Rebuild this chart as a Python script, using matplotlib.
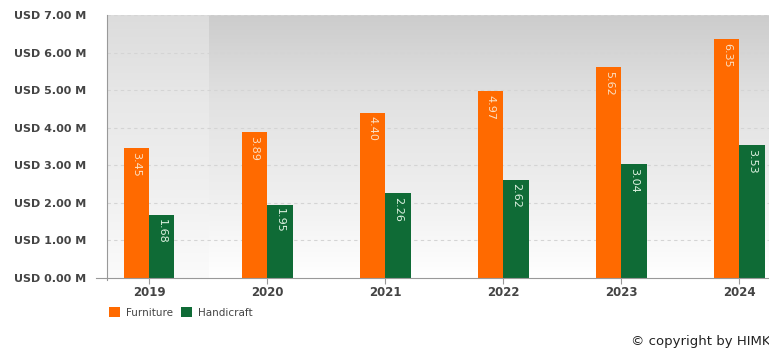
import numpy as np
import matplotlib.pyplot as plt
from matplotlib.colors import LinearSegmentedColormap

years = ["2019", "2020", "2021", "2022", "2023", "2024"]
furniture = [3.45, 3.89, 4.40, 4.97, 5.62, 6.35]
handicraft = [1.68, 1.95, 2.26, 2.62, 3.04, 3.53]
ytick_vals = [0, 1, 2, 3, 4, 5, 6, 7]
ytick_labels = ["USD %.2f M" % v for v in ytick_vals]

orange = "#FF6A00"
green = "#0F6B36"

fig = plt.figure(figsize=(7.69, 3.49), dpi=100)
ax = fig.add_axes([107/769, 1-278/349, 1-107/769, (278-15)/349])

x = np.arange(len(years))
w = 0.215
xmin, xmax = -0.356, 5.25
ax.set_xlim(xmin, xmax)
ax.set_ylim(0, 7)

# background gradient
grad = np.linspace(0, 1, 256).reshape(-1, 1)
cmap_r = LinearSegmentedColormap.from_list("r", ["#ffffff", "#eeeeee", "#e2e2e2", "#cccccc"])
cmap_l = LinearSegmentedColormap.from_list("l", ["#fbfbfb", "#f0f0f0", "#e8e8e8", "#dcdcdc"])
ax.imshow(grad, extent=[0.5, xmax, 0, 7], origin="lower", aspect="auto", cmap=cmap_r, zorder=0)
ax.imshow(grad, extent=[xmin, 0.5, 0, 7], origin="lower", aspect="auto", cmap=cmap_l, zorder=0)

for v in ytick_vals[1:]:
    ax.axhline(v, color="#d4d4d4", lw=0.8, ls=(0, (3, 3)), zorder=1)

b1 = ax.bar(x - w/2, furniture, w, color=orange, zorder=2, label="Furniture")
b2 = ax.bar(x + w/2, handicraft, w, color=green, zorder=2, label="Handicraft")

for xi, v in zip(x, furniture):
    ax.text(xi - w/2, v - 0.1, "%.2f" % v, rotation=270, ha="center", va="top",
            color="#fbe0c4", fontsize=8, zorder=3)
for xi, v in zip(x, handicraft):
    ax.text(xi + w/2, v - 0.1, "%.2f" % v, rotation=270, ha="center", va="top",
            color="#dff2e2", fontsize=8, zorder=3)

ax.set_xticks(x)
ax.set_xticklabels(years)
ax.set_yticks(ytick_vals)
ax.set_yticklabels(ytick_labels)
ax.tick_params(axis="y", length=0, pad=15, labelsize=8, labelcolor="#444444")
ax.tick_params(axis="x", length=4, color="#999999", pad=2, labelsize=8.5, labelcolor="#444444")

for s in ["top", "right"]:
    ax.spines[s].set_visible(False)
ax.spines["left"].set_color("#999999")
ax.spines["bottom"].set_color("#999999")
ax.spines["left"].set_bounds(-0.05, 7)
for lab in ax.get_yticklabels():
    lab.set_fontweight("semibold")
for lab in ax.get_xticklabels():
    lab.set_fontweight("semibold")

# extend bottom axis line a bit to the left
ax.plot([xmin - 0.09, xmin], [0, 0], color="#999999", lw=0.8, clip_on=False)

leg = fig.legend(handles=[b1, b2], labels=["Furniture", "Handicraft"],
                 loc="upper left", bbox_to_anchor=(100/769, 1-298/349), ncol=2,
                 frameon=False, fontsize=7.5, handlelength=1.0, handleheight=1.0,
                 handletextpad=0.6, columnspacing=0.8, labelcolor="#444444")

fig.text(631/769, 1-341/349, "\u00a9 copyright by HIMK", fontsize=9.5, color="#222222",
         ha="left", va="center")

fig.savefig("out.png", dpi=100)
